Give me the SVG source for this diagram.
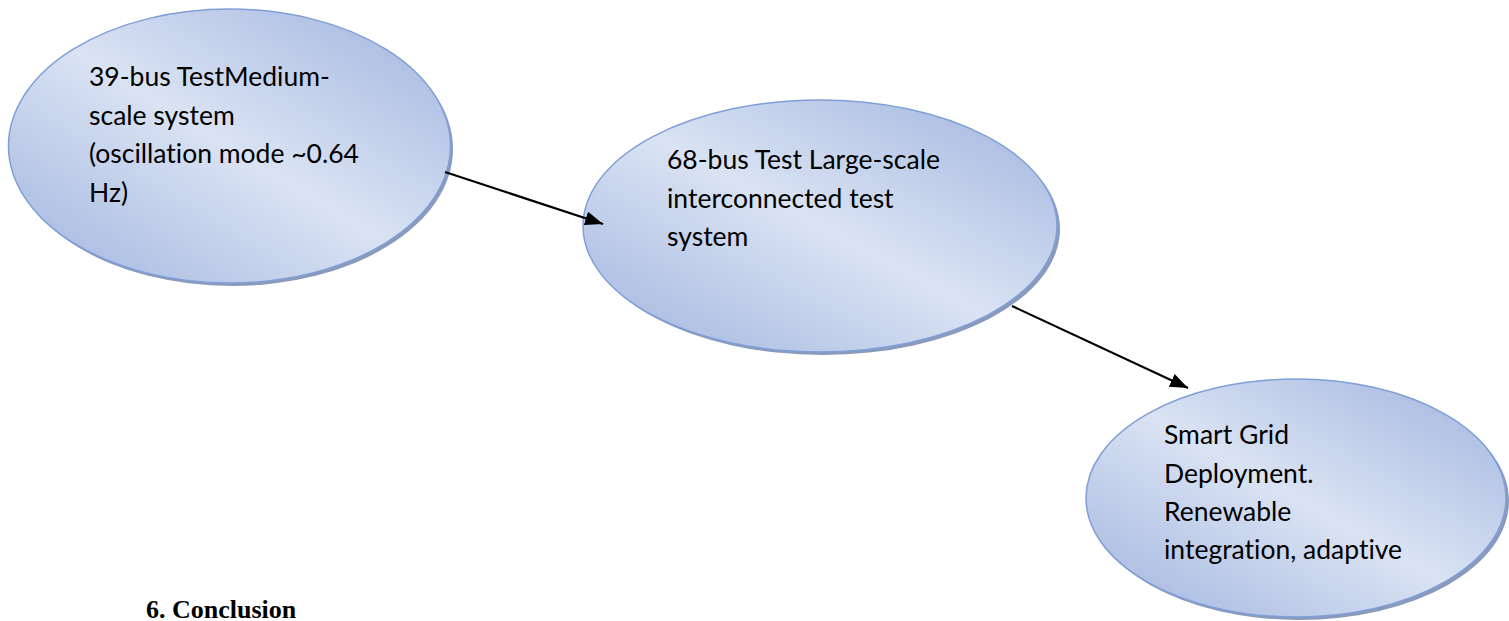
<svg xmlns="http://www.w3.org/2000/svg" width="1509" height="621" viewBox="0 0 1509 621">
  <defs>
    <linearGradient id="bubbleFill" x1="0" y1="1" x2="1" y2="0">
      <stop offset="0" stop-color="#9fb3de"/>
      <stop offset="0.5" stop-color="#dae3f3"/>
      <stop offset="1" stop-color="#9fb3de"/>
    </linearGradient>
    <marker id="arrowHead" viewBox="0 0 18 14" refX="18" refY="7" markerWidth="18" markerHeight="14" markerUnits="userSpaceOnUse" orient="auto">
      <path d="M0,0 L18,7 L0,14 z" fill="#000"/>
    </marker>
  </defs>
  <style>
    .shadow { fill: #8a9abb; }
    .bubble { fill: url(#bubbleFill); stroke: #7f9fd6; stroke-width: 1.5; }
    .label { font-family: Lato, "Open Sans", sans-serif; font-size: 26.5px; fill: #000; font-variant-ligatures: none; }
    .link { stroke: #000; stroke-width: 2.2; fill: none; }
    .heading { font-family: "Liberation Serif", serif; font-weight: bold; font-size: 26px; fill: #000; }
  </style>
  <rect width="1509" height="621" fill="#fff"/>

  <g id="node-39bus">
    <ellipse class="shadow" cx="232" cy="149" rx="221" ry="137"/>
    <ellipse class="bubble" cx="229.5" cy="146" rx="221" ry="137"/>
    <text class="label" x="89" y="86">39-bus TestMedium-</text>
    <text class="label" x="89" y="125">scale system</text>
    <text class="label" x="89" y="163">(oscillation mode ~0.64</text>
    <text class="label" x="89" y="202">Hz)</text>
  </g>

  <g id="node-68bus">
    <ellipse class="shadow" cx="823" cy="229" rx="237" ry="126"/>
    <ellipse class="bubble" cx="820" cy="226" rx="237" ry="126"/>
    <text class="label" x="667" y="169">68-bus Test Large-scale</text>
    <text class="label" x="667" y="208">interconnected test</text>
    <text class="label" x="667" y="246">system</text>
  </g>

  <g id="node-smartgrid">
    <ellipse class="shadow" cx="1299" cy="501" rx="210" ry="119"/>
    <ellipse class="bubble" cx="1296" cy="498" rx="210" ry="119"/>
    <text class="label" x="1164" y="444">Smart Grid</text>
    <text class="label" x="1164" y="483">Deployment.</text>
    <text class="label" x="1164" y="521">Renewable</text>
    <text class="label" x="1164" y="559">integration, adaptive</text>
  </g>

  <g id="connectors">
    <line class="link" x1="445" y1="172" x2="603" y2="224" marker-end="url(#arrowHead)"/>
    <line class="link" x1="1012" y1="306" x2="1188" y2="388" marker-end="url(#arrowHead)"/>
  </g>

  <text class="heading" x="146" y="618">6. Conclusion</text>
</svg>
